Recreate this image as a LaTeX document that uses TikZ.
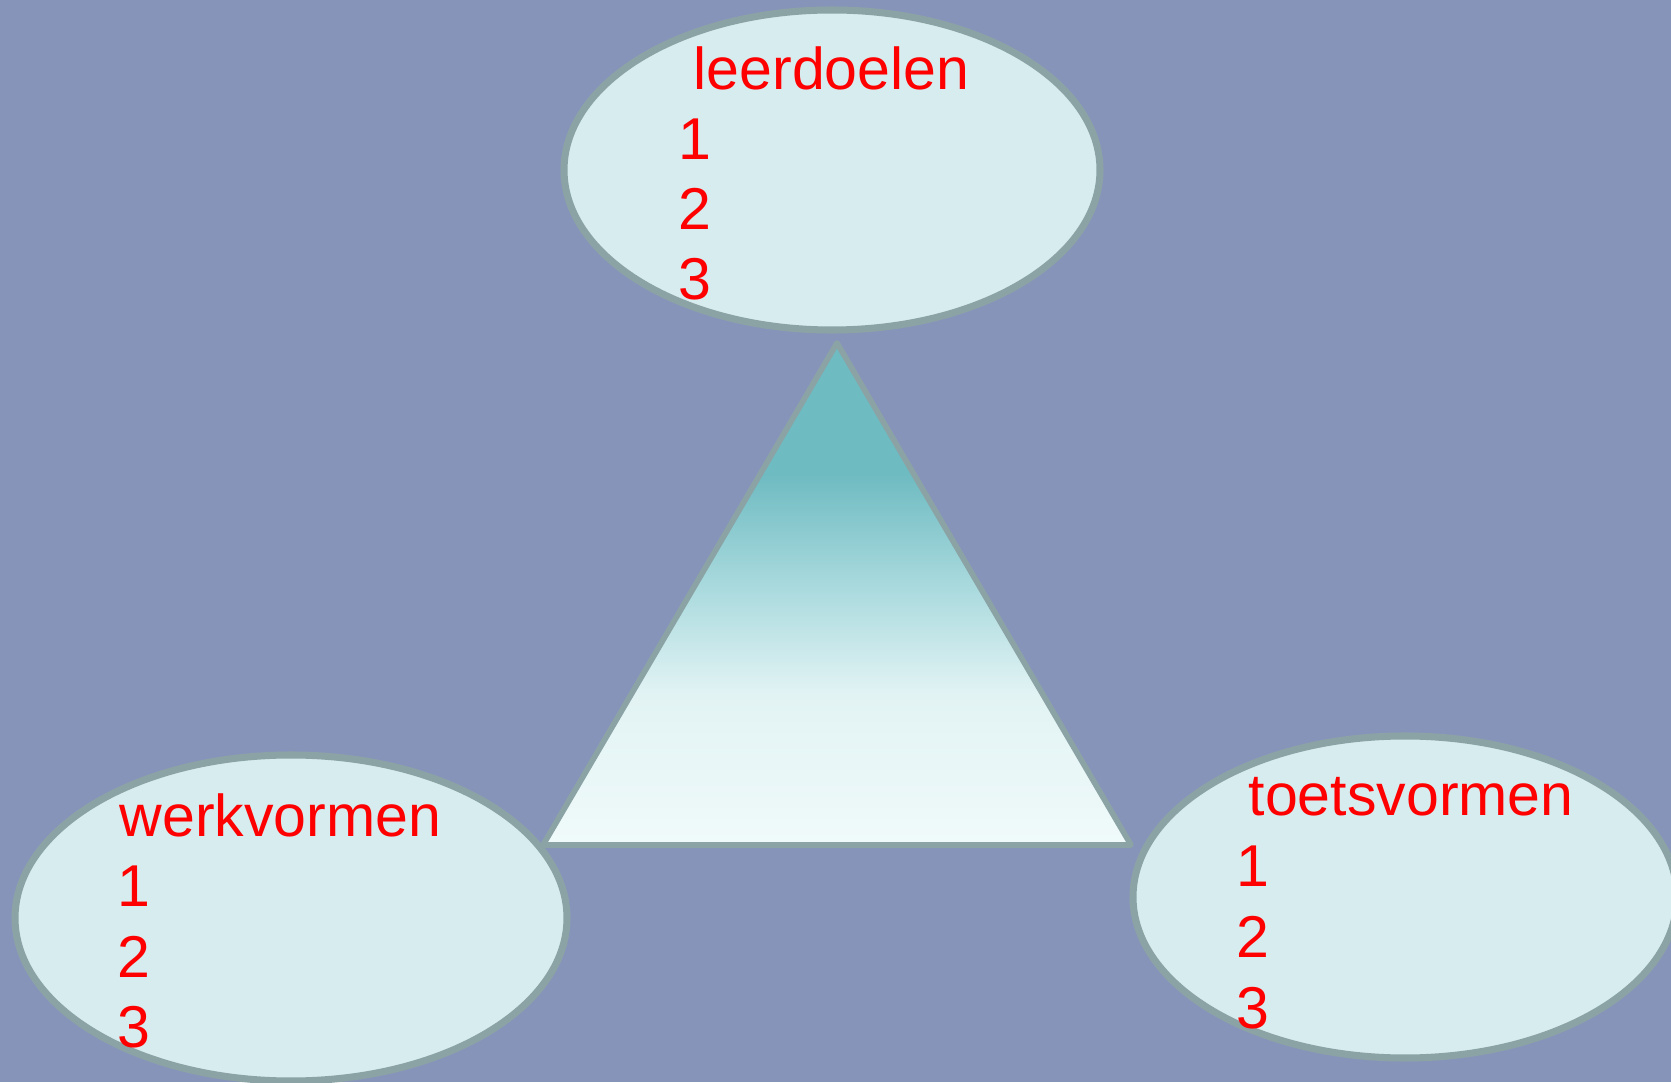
\documentclass[tikz,border=0pt]{standalone}
\usepackage{fontspec}
\setmainfont{Liberation Sans}
\usetikzlibrary{shapes.geometric}
\definecolor{achter}{HTML}{8794BA}
\definecolor{vulling}{HTML}{D7ECEE}
\definecolor{rand}{HTML}{8BA3A5}
\definecolor{tribot}{HTML}{F0FAFA}
\definecolor{trilicht}{HTML}{E2F3F4}
\definecolor{trimid}{HTML}{A8D9DD}
\definecolor{tritop}{HTML}{6EBBC1}
\pgfdeclareverticalshading{driehoek}{100bp}{color(0bp)=(tribot); color(25bp)=(tribot); color(40bp)=(trilicht); color(51bp)=(trimid); color(62bp)=(tritop); color(100bp)=(tritop)}
\tikzset{
  wolk/.style={ellipse, draw=rand, fill=vulling, line width=2pt, inner sep=0pt},
  tekst/.style={anchor=base west, inner sep=0pt, text=red, font=\fontsize{16.8}{20}\selectfont}
}
\begin{document}
\begin{tikzpicture}[line join=round]
			\path[use as bounding box, fill=achter] (0,0) rectangle (16.71,10.82);
			\clip (0,0) rectangle (16.71,10.82);
			% de driehoek
			\coordinate (top) at (8.37,7.39);
			\coordinate (links) at (5.43,2.37);
			\coordinate (rechts) at (11.31,2.37);
			\draw[draw=rand, line width=1.6pt, shading=driehoek] (top) -- (links) -- (rechts) -- cycle;
			% de drie ellipsen
			\node[wolk, minimum width=5.36cm, minimum height=3.20cm] (doelen) at (8.32,9.12) {};
			\node[wolk, minimum width=5.52cm, minimum height=3.26cm] (werk) at (2.91,1.64) {};
			\node[wolk, minimum width=5.44cm, minimum height=3.22cm] (toets) at (14.05,1.85) {};
			% teksten
			\node[tekst] (doelentitel) at (6.93,9.92) {leerdoelen};
			\foreach \k in {1,2,3}
				\node[tekst] (doelen\k) at (6.78,{9.92-0.70*\k}) {\k};
			\node[tekst] (werktitel) at (1.19,2.46) {werkvormen};
			\foreach \k in {1,2,3}
				\node[tekst] (werk\k) at (1.17,{2.46-0.705*\k}) {\k};
			\node[tekst] (toetstitel) at (12.48,2.67) {toetsvormen};
			\foreach \k in {1,2,3}
				\node[tekst] (toets\k) at (12.36,{2.67-0.71*\k}) {\k};
\end{tikzpicture}
\end{document}
